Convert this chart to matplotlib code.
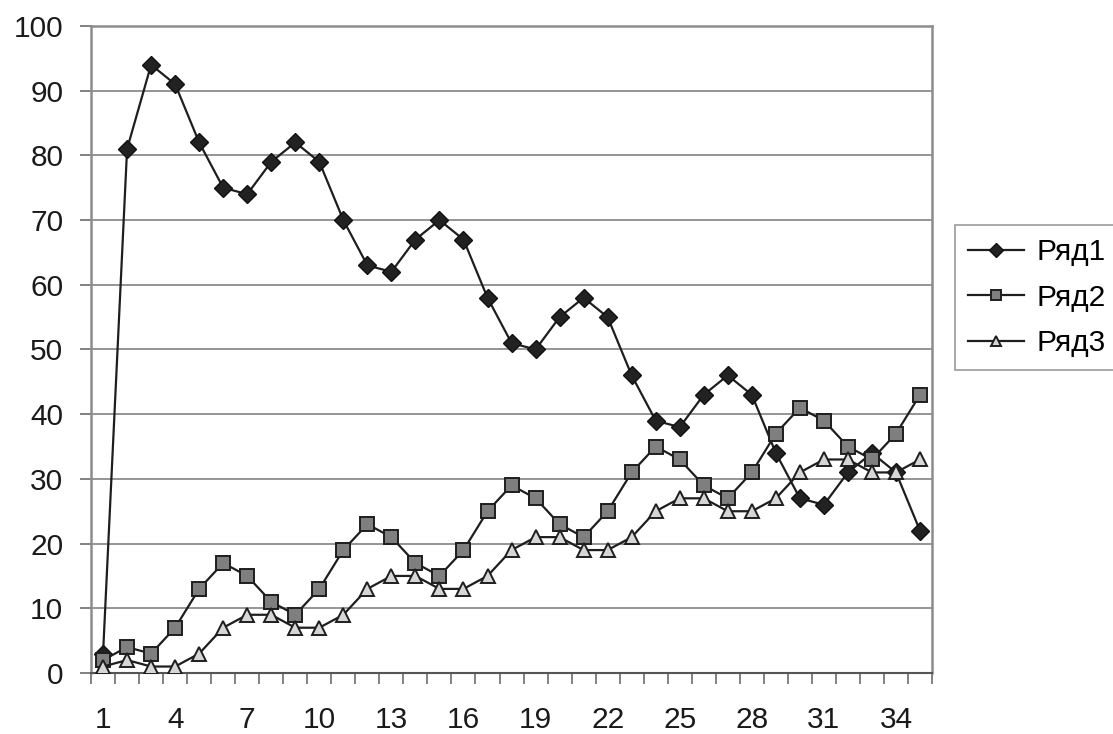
import matplotlib
matplotlib.use("Agg")
import matplotlib.pyplot as plt
from matplotlib.ticker import FixedLocator

plt.rcParams['font.family'] = ['Liberation Sans', 'DejaVu Sans']

categories = list(range(1, 36))
row1 = [3, 81, 94, 91, 82, 75, 74, 79, 82, 79, 70, 63, 62, 67, 70, 67, 58, 51, 50, 55,
        58, 55, 46, 39, 38, 43, 46, 43, 34, 27, 26, 31, 34, 31, 22]
row2 = [2, 4, 3, 7, 13, 17, 15, 11, 9, 13, 19, 23, 21, 17, 15, 19, 25, 29, 27, 23,
        21, 25, 31, 35, 33, 29, 27, 31, 37, 41, 39, 35, 33, 37, 43]
row3 = [1, 2, 1, 1, 3, 7, 9, 9, 7, 7, 9, 13, 15, 15, 13, 13, 15, 19, 21, 21,
        19, 19, 21, 25, 27, 27, 25, 25, 27, 31, 33, 33, 31, 31, 33]
series_names = ['Ряд1', 'Ряд2', 'Ряд3']
x_labels = [str(c) for c in categories]
y_ticks = list(range(0, 101, 10))

fig = plt.figure(figsize=(11.13, 7.34), dpi=100)
ax = fig.add_axes([0.0818, 0.0831, 0.7556, 0.8815])

dark = '#1e1e1e'
ax.plot(categories, row1, color=dark, lw=1.6, marker='D', markersize=9,
        markerfacecolor='#222222', markeredgecolor='#111111', markeredgewidth=1.0,
        label=series_names[0], zorder=3)
ax.plot(categories, row2, color=dark, lw=1.6, marker='s', markersize=10,
        markerfacecolor='#7f7f7f', markeredgecolor='#1e1e1e', markeredgewidth=1.4,
        label=series_names[1], zorder=4)
ax.plot(categories, row3, color=dark, lw=1.6, marker='^', markersize=10,
        markerfacecolor='#d6d6d6', markeredgecolor='#1e1e1e', markeredgewidth=1.4,
        label=series_names[2], zorder=5)

ax.set_xlim(0.5, 35.5)
ax.set_ylim(0, 100)
ax.set_yticks(y_ticks)
ax.set_yticklabels([str(v) for v in y_ticks])
ax.set_xticks(categories[::3])
ax.set_xticklabels(x_labels[::3])
ax.xaxis.set_minor_locator(FixedLocator([i + 0.5 for i in range(0, 36)]))

ax.grid(axis='y', color='#8c8c8c', lw=1.3, zorder=0)
ax.set_axisbelow(True)

for side in ['left', 'right', 'top']:
    ax.spines[side].set_color('#8c8c8c')
    ax.spines[side].set_linewidth(1.8)
ax.spines['bottom'].set_color('#555555')
ax.spines['bottom'].set_linewidth(1.5)

ax.tick_params(axis='x', which='major', length=0, pad=24, labelsize=21.5, colors='#1a1a1a')
ax.tick_params(axis='x', which='minor', length=8, width=1.3, color='#777777')
ax.tick_params(axis='y', which='major', length=8, width=1.3, color='#777777',
               pad=12, labelsize=21.5, labelcolor='#1a1a1a')

leg = fig.legend(loc='upper left', bbox_to_anchor=(0.858, 0.6935), fontsize=21.5,
                 frameon=True, fancybox=False, handlelength=1.87, handletextpad=0.4,
                 labelspacing=0.58, borderpad=0.45, borderaxespad=0)
leg.get_frame().set_edgecolor('#8c8c8c')
leg.get_frame().set_linewidth(1.3)
for h in leg.legend_handles:
    h.set_markersize(7)

fig.savefig('out.png', dpi=100, facecolor='white')
